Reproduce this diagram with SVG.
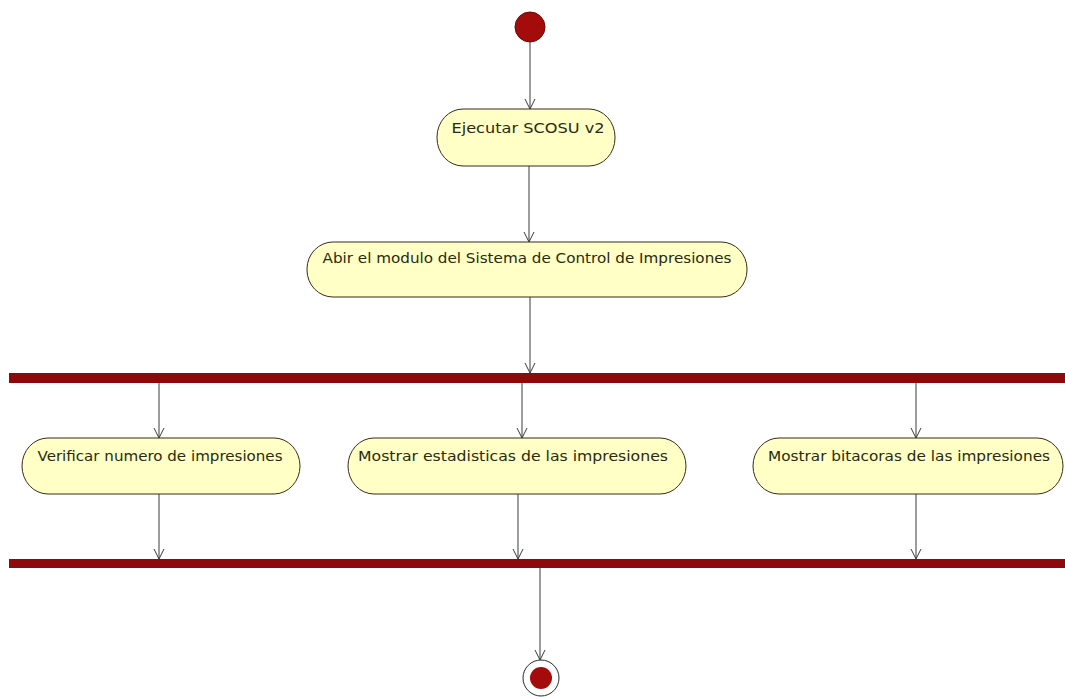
<svg xmlns="http://www.w3.org/2000/svg" width="1065" height="698" viewBox="0 0 1065 698">
<defs>
<marker id="arr" markerWidth="12" markerHeight="12" refX="10" refY="5" orient="auto" markerUnits="userSpaceOnUse" viewBox="0 0 12 10">
<path d="M0,0 L10,5 L0,10" fill="none" stroke="#3a3a3a" stroke-width="1"/>
</marker>
</defs>
<style>
.node{fill:#ffffc6;stroke:#3a2a1a;stroke-width:1}
.lbl{font-family:"DejaVu Sans",Verdana,sans-serif;font-size:14px;fill:#2a2a10;text-anchor:middle}
.bar{fill:#8e0a0a}
.con{stroke:#3a3a3a;stroke-width:1;fill:none;marker-end:url(#arr)}
</style>
<rect width="1065" height="698" fill="#ffffff"/>
<g id="start"><circle cx="530" cy="27" r="15" fill="#a40c0c" stroke="#6a0606" stroke-width="1"/></g>
<g id="n1"><rect class="node" x="437" y="109" width="178" height="57" rx="26" ry="28"/><text class="lbl" x="528" y="133" textLength="153" lengthAdjust="spacingAndGlyphs">Ejecutar SCOSU v2</text></g>
<g id="n2"><rect class="node" x="307" y="242" width="440" height="55" rx="26" ry="27"/><text class="lbl" x="527" y="263" textLength="409" lengthAdjust="spacingAndGlyphs">Abir el modulo del Sistema de Control de Impresiones</text></g>
<g id="fork"><rect class="bar" x="9" y="373" width="1056" height="10"/></g>
<g id="n3"><rect class="node" x="22" y="438" width="278" height="56" rx="26" ry="28"/><text class="lbl" x="160" y="461" textLength="245" lengthAdjust="spacingAndGlyphs">Verificar numero de impresiones</text></g>
<g id="n4"><rect class="node" x="348" y="438" width="338" height="56" rx="26" ry="28"/><text class="lbl" x="513" y="461" textLength="310" lengthAdjust="spacingAndGlyphs">Mostrar estadisticas de las impresiones</text></g>
<g id="n5"><rect class="node" x="753" y="438" width="310" height="56" rx="26" ry="28"/><text class="lbl" x="909" y="461" textLength="282" lengthAdjust="spacingAndGlyphs">Mostrar bitacoras de las impresiones</text></g>
<g id="join"><rect class="bar" x="9" y="559" width="1056" height="9"/></g>
<g id="end"><circle cx="541" cy="678" r="18" fill="#ffffff" stroke="#2a2a2a" stroke-width="1"/><circle cx="541" cy="678" r="11" fill="#a40c0c"/></g>
<g id="connectors">
<line class="con" x1="530" y1="42" x2="530" y2="109"/>
<line class="con" x1="529" y1="166" x2="529" y2="242"/>
<line class="con" x1="530" y1="297" x2="530" y2="373"/>
<line class="con" x1="159" y1="383" x2="159" y2="438"/>
<line class="con" x1="522" y1="383" x2="522" y2="438"/>
<line class="con" x1="916" y1="383" x2="916" y2="438"/>
<line class="con" x1="159" y1="494" x2="159" y2="559"/>
<line class="con" x1="518" y1="494" x2="518" y2="559"/>
<line class="con" x1="916" y1="494" x2="916" y2="559"/>
<line class="con" x1="540" y1="568" x2="540" y2="660"/>
</g>
</svg>
